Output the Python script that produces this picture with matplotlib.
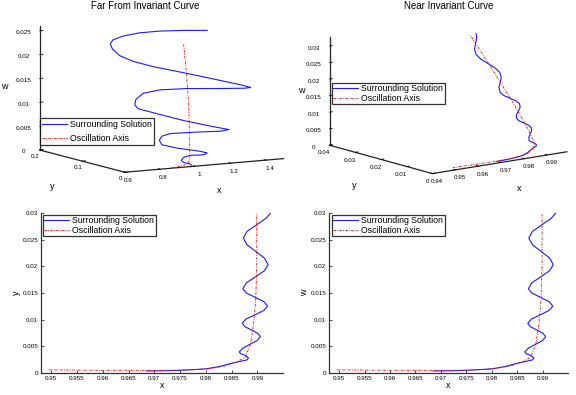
import numpy as np
import matplotlib
matplotlib.use("Agg")
import matplotlib.pyplot as plt
from mpl_toolkits.mplot3d import Axes3D  # noqa: F401

plt.rcParams["font.family"] = ["Liberation Sans", "DejaVu Sans"]

# ---- far from invariant curve (orbit drawn in the y = 0 plane) ----
x_far = [1.067, 0.933, 0.800, 0.686, 0.590, 0.533, 0.518, 0.530, 0.571, 0.647,
         0.762, 0.953, 1.124, 1.257, 1.314, 1.276, 1.124, 0.953, 0.800, 0.705,
         0.663, 0.657, 0.676, 0.762, 0.933, 1.086, 1.190, 1.143, 0.990, 0.857,
         0.810, 0.796, 0.810, 0.895, 1.029, 1.067, 1.047, 0.971, 0.933, 0.920,
         0.933, 0.967, 0.977]
w_far = [0.02825, 0.02867, 0.02895, 0.02895, 0.02856, 0.02795, 0.02716, 0.02606, 0.02454, 0.02309,
         0.02161, 0.01959, 0.01771, 0.01623, 0.01549, 0.01546, 0.01588, 0.01642, 0.01663, 0.01621,
         0.01508, 0.01391, 0.01307, 0.01195, 0.00978, 0.00812, 0.00707, 0.00688, 0.00715, 0.00728,
         0.00688, 0.00608, 0.00510, 0.00413, 0.00302, 0.00254, 0.00224, 0.00235, 0.00205, 0.00146,
         0.00099, 0.00059, 0.00028]
x_far_axis = [0.867, 0.926, 0.960, 0.969, 0.967, 0.963, 0.956, 0.949, 0.933]
w_far_axis = [0.0001, 0.00034, 0.00065, 0.00179, 0.00602, 0.01237, 0.01626, 0.01981, 0.02599]

# ---- near invariant curve ----
x_near = [0.9685, 0.9720, 0.9750, 0.9780, 0.9802, 0.9828, 0.9848, 0.9868, 0.9880, 0.9883,
          0.9877, 0.9868, 0.9865, 0.9872, 0.9886, 0.9900, 0.9906, 0.9901, 0.9889, 0.9876,
          0.9871, 0.9878, 0.9896, 0.9913, 0.9920, 0.9913, 0.9896, 0.9879, 0.9872, 0.9879,
          0.9897, 0.9914, 0.9921, 0.9914, 0.9897, 0.9880, 0.9873, 0.9880, 0.9899, 0.9917,
          0.9926]
w_near = [0.00038, 0.00042, 0.00050, 0.00065, 0.00080, 0.00125, 0.00177, 0.00220, 0.00245, 0.00280,
          0.00330, 0.00360, 0.00395, 0.00466, 0.00538, 0.00609, 0.00680, 0.00743, 0.00805, 0.00868,
          0.00930, 0.01011, 0.01093, 0.01174, 0.01255, 0.01336, 0.01418, 0.01499, 0.01580, 0.01693,
          0.01805, 0.01918, 0.02030, 0.02155, 0.02280, 0.02405, 0.02530, 0.02655, 0.02780, 0.02900,
          0.03000]
y_near = w_near  # y and w coincide along this orbit

x_axis = [0.9495, 0.9600, 0.9700, 0.9750, 0.9802, 0.9835, 0.9861, 0.9877, 0.9887, 0.9893,
          0.9897, 0.9899, 0.9899]
w_axis = [0.0006, 0.0005, 0.0005, 0.00052, 0.00075, 0.00126, 0.0021, 0.0030, 0.0055, 0.0093,
          0.0137, 0.0200, 0.0300]
y_axis = w_axis

BLUE = "#1a1aff"
RED = "#ff0000"
AXIS_DASH = (0, (3, 1.5, 1, 1.5))
TICK_FS = 4.5
LEG_FS = 6.3

fig = plt.figure(figsize=(5.76, 3.95), dpi=100)


def px_rect(x0, y0, x1, y1):
    return [x0 / 576, 1 - y1 / 395, (x1 - x0) / 576, (y1 - y0) / 395]


def style_3d(ax, xpad, ypad):
    ax.set_proj_type("ortho")
    ax.grid(False)
    for axis in (ax.xaxis, ax.yaxis, ax.zaxis):
        axis.pane.fill = False
        axis.pane.set_edgecolor("none")
        axis.line.set_color("#222222")
        axis.line.set_linewidth(0.9)
        axis._axinfo["tick"]["inward_factor"] = 0.0
        axis._axinfo["tick"]["outward_factor"] = 0.25
        axis._axinfo["tick"]["linewidth"] = {True: 0.6, False: 0.4}
    ax.tick_params(labelsize=TICK_FS, pad=-3)
    ax.xaxis.set_tick_params(pad=xpad)
    ax.yaxis.set_tick_params(pad=ypad)


def add_legend(ax, anchor, spacing, bpad):
    leg = ax.legend(loc="upper left", bbox_to_anchor=anchor, bbox_transform=fig.transFigure,
                    fontsize=LEG_FS, frameon=True, fancybox=False, borderaxespad=0,
                    handlelength=2.8, handletextpad=0.4, borderpad=bpad, labelspacing=spacing)
    leg.get_frame().set_edgecolor("black")
    leg.get_frame().set_linewidth(0.9)


# ---- top left: far ----
ax1 = fig.add_axes(px_rect(9, -5, 309, 195), projection="3d")
style_3d(ax1, -5, -6)
ax1.plot(x_far, w_far, zs=0, zdir="y", color=BLUE, lw=0.8, label="Surrounding Solution")
ax1.plot(x_far_axis, w_far_axis, zs=0, zdir="y", color=RED, lw=0.6, ls=AXIS_DASH,
         label="Oscillation Axis")
ax1.set_xlim(0.6, 1.5)
ax1.set_ylim(0, 0.2)
ax1.set_zlim(0, 0.026)
ax1.set_xticks([0.6, 0.8, 1.0, 1.2, 1.4], ["0.6", "0.8", "1", "1.2", "1.4"])
ax1.set_yticks([0, 0.1, 0.2], ["0", "0.1", "0.2"])
ax1.set_zticks([0, 0.005, 0.01, 0.015, 0.02, 0.025],
               ["0", "0.005", "0.01", "0.015", "0.02", "0.025"])
ax1.view_init(elev=8.6, azim=-119.8)
ax1.set_box_aspect((181, 169, 124), zoom=1.36)
ax1.set_xlabel("x", fontsize=6.5, labelpad=-8)
ax1.set_ylabel("y", fontsize=6.5, labelpad=-7)
ax1.set_zlabel("w", fontsize=6.5, labelpad=-10)
add_legend(ax1, (40 / 576, 1 - 118 / 395), 0.55, 0.25)

# ---- top right: near ----
ax2 = fig.add_axes(px_rect(305, -3, 586, 197), projection="3d")
style_3d(ax2, -5, -5)
ax2.plot(x_near, y_near, w_near, color=BLUE, lw=0.8, label="Surrounding Solution")
ax2.plot(x_axis, y_axis, w_axis, color=RED, lw=0.6, ls=AXIS_DASH, label="Oscillation Axis")
ax2.set_xlim(0.94, 0.9985)
ax2.set_ylim(0, 0.04)
ax2.set_zlim(0, 0.0328)
ax2.set_xticks([0.94, 0.95, 0.96, 0.97, 0.98, 0.99])
ax2.set_yticks([0, 0.01, 0.02, 0.03, 0.04], ["0", "0.01", "0.02", "0.03", "0.04"])
ax2.set_zticks([0, 0.005, 0.01, 0.015, 0.02, 0.025, 0.03],
               ["0", "0.005", "0.01", "0.015", "0.02", "0.025", "0.03"])
ax2.view_init(elev=12.2, azim=-127.5)
ax2.set_box_aspect((172.5, 172, 113), zoom=1.28)
ax2.set_xlabel("x", fontsize=6.5, labelpad=-7)
ax2.set_ylabel("y", fontsize=6.5, labelpad=-6)
ax2.set_zlabel("w", fontsize=6.5, labelpad=-12)
add_legend(ax2, (332 / 576, 1 - 83 / 395), 0.05, 0.15)

fig.text(145 / 576, 1 - 6 / 395, "Far From Invariant Curve", ha="center", va="center", fontsize=7)
fig.text(449 / 576, 1 - 6 / 395, "Near Invariant Curve", ha="center", va="center", fontsize=7)

# ---- bottom: planar projections ----
xticks_2d = [0.95, 0.955, 0.96, 0.965, 0.97, 0.975, 0.98, 0.985, 0.99]
xlabels_2d = ["0.95", "0.955", "0.96", "0.965", "0.97", "0.975", "0.98", "0.985", "0.99"]
yticks_2d = [0, 0.005, 0.01, 0.015, 0.02, 0.025, 0.03]
ylabels_2d = ["0", "0.005", "0.01", "0.015", "0.02", "0.025", "0.03"]

panels = [
    (px_rect(41, 213, 283, 373), y_near, y_axis, "y", (43 / 576, 1 - 215 / 395)),
    (px_rect(329, 213, 568, 373), w_near, w_axis, "w", (332 / 576, 1 - 215 / 395)),
]
for rect, vals, axvals, lab, anchor in panels:
    ax = fig.add_axes(rect)
    ax.plot(x_near, vals, color=BLUE, lw=0.8, label="Surrounding Solution")
    ax.plot(x_axis, axvals, color=RED, lw=0.6, ls=AXIS_DASH, label="Oscillation Axis")
    ax.set_xlim(0.948, 0.995)
    ax.set_ylim(0, 0.03)
    ax.set_xticks(xticks_2d, xlabels_2d)
    ax.set_yticks(yticks_2d, ylabels_2d)
    for s in ("top", "right"):
        ax.spines[s].set_visible(False)
    for s in ("left", "bottom"):
        ax.spines[s].set_color("#333333")
        ax.spines[s].set_linewidth(0.9)
    ax.tick_params(direction="in", length=2, width=0.5, labelsize=TICK_FS, pad=2)
    ax.set_xlabel("x", fontsize=6.5, labelpad=0)
    ax.set_ylabel(lab, fontsize=6.5, labelpad=1)
    add_legend(ax, anchor, 0.05, 0.15)

fig.savefig("out.png", dpi=100, facecolor="white")
